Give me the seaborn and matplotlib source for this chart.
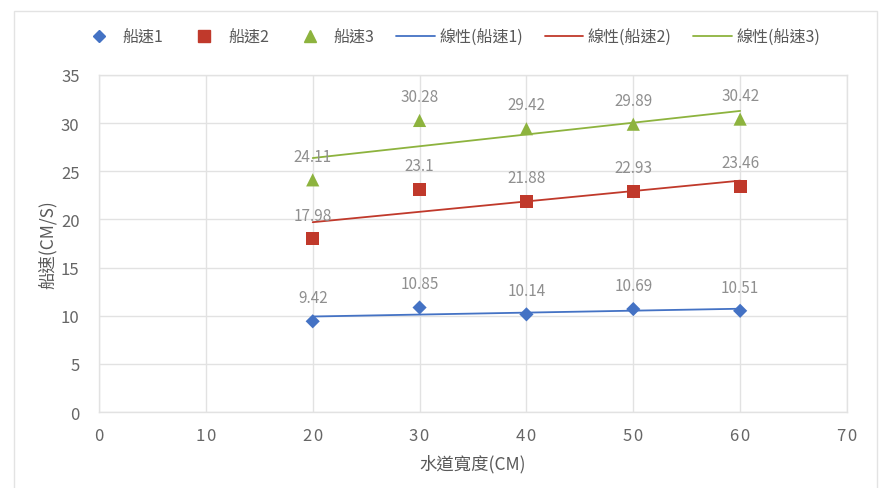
import numpy as np
import pandas as pd
import matplotlib
matplotlib.use("Agg")
import matplotlib.pyplot as plt
import seaborn as sns
from matplotlib.lines import Line2D
from matplotlib.patches import Rectangle

# data
widths = [20, 30, 40, 50, 60]
speed1 = [9.42, 10.85, 10.14, 10.69, 10.51]
speed2 = [17.98, 23.1, 21.88, 22.93, 23.46]
speed3 = [24.11, 30.28, 29.42, 29.89, 30.42]
series_names = ["船速1", "船速2", "船速3"]
trend_names = ["線性(船速1)", "線性(船速2)", "線性(船速3)"]
x_ticks = [0, 10, 20, 30, 40, 50, 60, 70]
y_ticks = [0, 5, 10, 15, 20, 25, 30, 35]

colors = ["#4472C4", "#C0392B", "#8DB33E"]
markers = ["D", "s", "^"]
marker_sizes = [52, 90, 90]

sns.set_theme(style="white")
plt.rcParams["font.family"] = ["Noto Sans CJK TC", "DejaVu Sans"]

df = pd.DataFrame({
    "width": widths * 3,
    "speed": speed1 + speed2 + speed3,
    "series": [n for n in series_names for _ in widths],
})

fig = plt.figure(figsize=(8.88, 4.89), dpi=100)
ax = fig.add_axes([99 / 888, 1 - 413 / 489, 748 / 888, 337 / 489])

# outer chart frame
fig.patches.append(Rectangle((14 / 888, -0.01), 863 / 888, 1 - 12 / 489 + 0.01,
                             transform=fig.transFigure, fill=False,
                             edgecolor="#e3e3e3", linewidth=1.0))

for i, name in enumerate(series_names):
    sub = df[df["series"] == name]
    sns.regplot(data=sub, x="width", y="speed", ax=ax, scatter=False, ci=None,
                truncate=True, line_kws=dict(color=colors[i], linewidth=1.3))
    sns.scatterplot(data=sub, x="width", y="speed", ax=ax, marker=markers[i],
                    s=marker_sizes[i], color=colors[i], edgecolor="none",
                    zorder=4, legend=False)
    for x, y in zip(sub["width"], sub["speed"]):
        ax.annotate(f"{y:g}", (x, y), xytext=(0, 11), textcoords="offset points",
                    ha="center", va="bottom", fontsize=11, color="#8f8f8f")

ax.set_xlim(0, 70)
ax.set_ylim(0, 35)
ax.set_xticks(x_ticks)
ax.set_xticklabels(["\u200a".join(str(t)) for t in x_ticks])
ax.set_yticks(y_ticks)
ax.grid(True, color="#e2e2e2", linewidth=1.0)
ax.set_axisbelow(True)
for sp in ax.spines.values():
    sp.set_color("#e2e2e2")
    sp.set_linewidth(1.0)
ax.tick_params(axis="both", length=0, labelsize=12, colors="#666666")
ax.tick_params(axis="x", pad=11)
ax.tick_params(axis="y", pad=14)
ax.set_xlabel("水道寬度(CM)", fontsize=12.5, color="#595959", labelpad=7)
ax.set_ylabel("船速(CM/S)", fontsize=12.5, color="#595959", labelpad=3)

handles = [Line2D([], [], linestyle="none", marker=markers[i], color=colors[i],
                  markersize=[6, 8, 8][i]) for i in range(3)]
handles += [Line2D([], [], color=colors[i], linewidth=1.3) for i in range(3)]
labels = series_names + trend_names
fig.legend(handles, labels, loc="center", bbox_to_anchor=(450 / 888, 1 - 38 / 489),
           ncol=6, frameon=False, fontsize=11.5, handlelength=2.4,
           handletextpad=0.3, columnspacing=1.35, labelcolor="#595959")

fig.savefig("out.png", dpi=100, facecolor="white")
